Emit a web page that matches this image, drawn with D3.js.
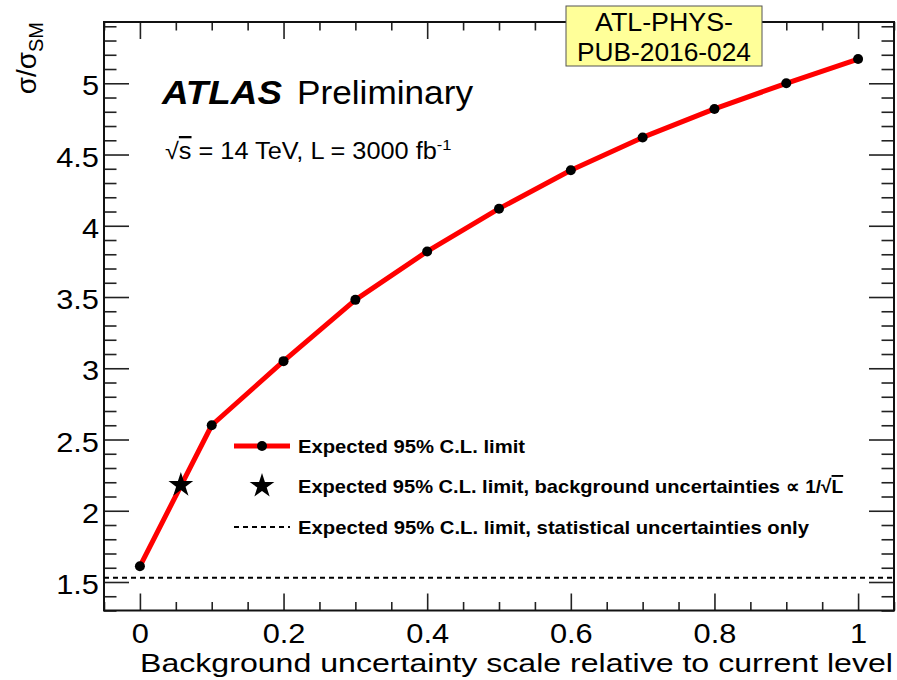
<!DOCTYPE html>
<html>
<head>
<meta charset="utf-8">
<script src="https://cdn.jsdelivr.net/npm/d3@7"></script>
<style>
    body { margin: 0; background: #fff; }
    text { font-family: "Liberation Sans", Arial, sans-serif; }
</style>
</head>
<body>
<div id="chart-container"></div>
<script>
// background uncertainty scale (x) and expected limit sigma/sigma_SM (y)
const bkgScale = [0, 0.1, 0.2, 0.3, 0.4, 0.5, 0.6, 0.7, 0.8, 0.9, 1.0];
const expLimit = [1.61, 2.60, 3.05, 3.48, 3.82, 4.12, 4.39, 4.62, 4.82, 5.00, 5.17];
const starPoint = [0.057, 2.18];   // background uncertainties scaled as 1/sqrt(L)
const statOnlyLimit = 1.53;

const xMajorTicks = [0, 0.2, 0.4, 0.6, 0.8, 1];
const yMajorTicks = [1.5, 2, 2.5, 3, 3.5, 4, 4.5, 5];
const legendLabels = [
    "Expected 95% C.L. limit",
    "Expected 95% C.L. limit, background uncertainties",
    "Expected 95% C.L. limit, statistical uncertainties only"
];

const svgW = 897;
const svgH = 680;
const frameL = 104, frameR = 894, frameT = 22, frameB = 610.5;

// stretch text horizontally, the reference glyphs are a bit wider than Liberation Sans
function stretch(sel, k) {
    sel.each(function() {
        const w = this.getComputedTextLength();
        d3.select(this).attr("textLength", w * k).attr("lengthAdjust", "spacingAndGlyphs");
    });
}

const xScale = d3.scaleLinear()
.domain([-0.05, 1.05])
.range([frameL, frameR]);

const yScale = d3.scaleLinear()
.domain([1.3, 5.43])
.range([frameB, frameT]);

const svg = d3.select("#chart-container")
.append("svg")
.attr("width", svgW)
.attr("height", svgH);

svg.append("rect")
.attr("width", svgW)
.attr("height", svgH)
.attr("fill", "#fff");

// minor + major ticks on all four sides (ROOT style)
const xMinor = d3.range(-0.05, 1.051, 0.05).filter(v => !xMajorTicks.some(m => Math.abs(m - v) < 1e-6));
const yMinor = d3.range(1.3, 5.431, 0.1).filter(v => !yMajorTicks.some(m => Math.abs(m - v) < 1e-6));

function addAxis(gen, transform) {
    const g = svg.append("g").attr("transform", transform).call(gen);
    g.select(".domain").remove();
    g.selectAll("line").attr("stroke", "#222").attr("stroke-width", 1.6);
    return g;
}

addAxis(d3.axisBottom(xScale).tickValues(xMinor).tickSize(-8.5).tickFormat(""), `translate(0,${frameB})`);
addAxis(d3.axisTop(xScale).tickValues(xMinor).tickSize(-8.5).tickFormat(""), `translate(0,${frameT})`);
addAxis(d3.axisTop(xScale).tickValues(xMajorTicks).tickSize(-17).tickFormat(""), `translate(0,${frameT})`);
addAxis(d3.axisLeft(yScale).tickValues(yMinor).tickSize(-12.5).tickFormat(""), `translate(${frameL},0)`);
addAxis(d3.axisRight(yScale).tickValues(yMinor).tickSize(-12.5).tickFormat(""), `translate(${frameR},0)`);
addAxis(d3.axisRight(yScale).tickValues(yMajorTicks).tickSize(-25).tickFormat(""), `translate(${frameR},0)`);

const xAxis = addAxis(d3.axisBottom(xScale).tickValues(xMajorTicks).tickSize(-17).tickPadding(12)
    .tickFormat(d3.format("")), `translate(0,${frameB})`);
xAxis.selectAll("text")
.attr("y", 32.5)
.attr("dy", null)
.attr("fill", "#000")
.style("font-size", "27px");
stretch(xAxis.selectAll("text"), 1.14);

const yAxis = addAxis(d3.axisLeft(yScale).tickValues(yMajorTicks).tickSize(-25).tickPadding(5)
    .tickFormat(d3.format("")), `translate(${frameL},0)`);
yAxis.selectAll("text")
.attr("dy", null)
.attr("y", 11.5)
.attr("fill", "#000")
.style("font-size", "27px");
stretch(yAxis.selectAll("text"), 1.14);

// frame
svg.append("rect")
.attr("x", frameL)
.attr("y", frameT)
.attr("width", frameR - frameL)
.attr("height", frameB - frameT)
.attr("fill", "none")
.attr("stroke", "#111")
.attr("stroke-width", 2);

// statistical-only limit
svg.append("line")
.attr("x1", xScale(-0.05))
.attr("x2", xScale(1.05))
.attr("y1", yScale(statOnlyLimit))
.attr("y2", yScale(statOnlyLimit))
.attr("stroke", "#000")
.attr("stroke-width", 2)
.attr("stroke-dasharray", "5,4");

// expected limit curve
const pts = bkgScale.map((x, i) => [x, expLimit[i]]);

svg.append("path")
.datum(pts)
.attr("fill", "none")
.attr("stroke", "#ff0000")
.attr("stroke-width", 5)
.attr("stroke-linejoin", "round")
.attr("d", d3.line().x(d => xScale(d[0])).y(d => yScale(d[1])));

svg.selectAll(".dot")
.data(pts)
.enter()
.append("circle")
.attr("class", "dot")
.attr("cx", d => xScale(d[0]))
.attr("cy", d => yScale(d[1]))
.attr("r", 5)
.attr("fill", "#000");

const star = d3.symbol().type(d3.symbolStar).size(190);

svg.append("path")
.attr("d", star())
.attr("transform", `translate(${xScale(starPoint[0])},${yScale(starPoint[1])})`)
.attr("fill", "#000");

// legend
const legendRows = [446, 486, 527];
const legend = svg.append("g");

legend.append("line")
.attr("x1", 234).attr("x2", 290)
.attr("y1", legendRows[0]).attr("y2", legendRows[0])
.attr("stroke", "#ff0000")
.attr("stroke-width", 5);
legend.append("circle")
.attr("cx", 262).attr("cy", legendRows[0]).attr("r", 5).attr("fill", "#000");
legend.append("path")
.attr("d", star())
.attr("transform", `translate(262,${legendRows[1]})`)
.attr("fill", "#000");
legend.append("line")
.attr("x1", 234).attr("x2", 290)
.attr("y1", legendRows[2]).attr("y2", legendRows[2])
.attr("stroke", "#000")
.attr("stroke-width", 2)
.attr("stroke-dasharray", "5,4");

const legendWidths = [227, 482, 511];
legend.selectAll(".legend-label")
.data(legendLabels)
.enter()
.append("text")
.attr("class", "legend-label")
.attr("x", 298)
.attr("y", (d, i) => legendRows[i] + 7)
.attr("textLength", (d, i) => legendWidths[i])
.attr("lengthAdjust", "spacingAndGlyphs")
.style("font-size", "19px")
.style("font-weight", "bold")
.text(d => d);

const propText = legend.append("text")
.attr("x", 786)
.attr("y", legendRows[1] + 7)
.style("font-size", "19px")
.style("font-weight", "bold");
propText.append("tspan").text("\u221D 1/\u221A");
propText.append("tspan").style("text-decoration", "overline").text("L");

// axis titles
svg.append("text")
.attr("x", 893)
.attr("y", 672)
.attr("text-anchor", "end")
.attr("textLength", 753)
.attr("lengthAdjust", "spacingAndGlyphs")
.style("font-size", "26px")
.text("Background uncertainty scale relative to current level");

const yTitle = svg.append("text")
.attr("transform", "translate(36,22) rotate(-90)")
.attr("text-anchor", "end")
.style("font-size", "28px");
yTitle.append("tspan").text("\u03C3/\u03C3");
yTitle.append("tspan").attr("dy", 7).style("font-size", "20px").text("SM");

// ATLAS label
svg.append("text")
.attr("x", 162)
.attr("y", 104)
.attr("textLength", 120)
.attr("lengthAdjust", "spacingAndGlyphs")
.style("font-size", "33px")
.style("font-weight", "bold")
.style("font-style", "italic")
.text("ATLAS");

svg.append("text")
.attr("x", 297)
.attr("y", 104)
.attr("textLength", 176)
.attr("lengthAdjust", "spacingAndGlyphs")
.style("font-size", "33px")
.text("Preliminary");

const energy = svg.append("text")
.attr("x", 165)
.attr("y", 159)
.style("font-size", "23px");
energy.append("tspan").text("\u221A");
energy.append("tspan").style("text-decoration", "overline").text("s");
energy.append("tspan").text(" = 14 TeV, L = 3000 fb");
energy.append("tspan").attr("dy", -9).style("font-size", "15px").text("-1");
stretch(energy, 1.1);

// note box
svg.append("rect")
.attr("x", 566)
.attr("y", 6)
.attr("width", 196)
.attr("height", 60)
.attr("fill", "#ffff99")
.attr("stroke", "#555")
.attr("stroke-width", 1);

svg.append("text")
.attr("x", 664)
.attr("y", 31)
.attr("text-anchor", "middle")
.attr("textLength", 138)
.attr("lengthAdjust", "spacingAndGlyphs")
.style("font-size", "25px")
.text("ATL-PHYS-");

svg.append("text")
.attr("x", 664)
.attr("y", 61)
.attr("text-anchor", "middle")
.attr("textLength", 174)
.attr("lengthAdjust", "spacingAndGlyphs")
.style("font-size", "25px")
.text("PUB-2016-024");
</script>
</body>
</html>
